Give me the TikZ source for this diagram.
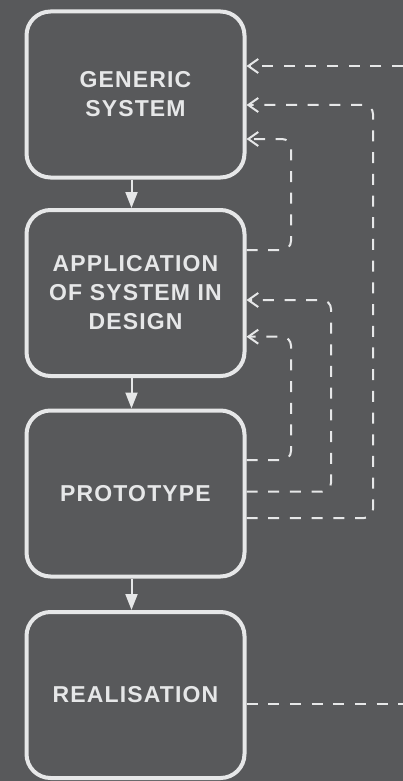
\documentclass[tikz,border=0pt]{standalone}
\usepackage{fontspec}
\setmainfont{Liberation Sans}
\newfontfamily\stagefont[LetterSpace=5]{Liberation Sans}
\usetikzlibrary{positioning, arrows.meta, calc}
\definecolor{cBg}{HTML}{58595B}
\definecolor{cW}{HTML}{E6E7E8}

\begin{document}
\begin{tikzpicture}[x=1pt, y=-1pt,
    stage/.style={draw=cW, line width=4pt, rounded corners=24pt, minimum width=218pt, minimum height=166pt,
        align=center, text=cW, font={\stagefont\bfseries\fontsize{23}{29}\selectfont}},
    flow/.style={draw=cW, line width=2pt, -{Triangle[length=16pt, width=12pt]}},
    fbline/.style={draw=cW, line width=2pt, dash pattern=on 11pt off 10.7pt, rounded corners=9pt},
    fb/.style={fbline, -{Straight Barb[length=10pt, width=14pt]}}]
    % background
    \useasboundingbox[fill=cBg] (0,0) rectangle (403,781);

    % Stages
    \node[stage] (gen) at (135.5, 94.5) {GENERIC\\SYSTEM};
    \node[stage] (app) at (135.5, 293) {APPLICATION\\OF SYSTEM IN\\DESIGN};
    \node[stage] (proto) at (135.5, 493.5) {PROTOTYPE};
    \node[stage] (real) at (135.5, 695) {REALISATION};

    % Main flow
    \draw[flow] ([xshift=-4pt]gen.south) -- ([xshift=-4pt]app.north);
    \draw[flow] ([xshift=-4pt]app.south) -- ([xshift=-4pt]proto.north);
    \draw[flow] ([xshift=-4pt]proto.south) -- ([xshift=-4pt]real.north);

    % Loose ends at the right edge
    \coordinate (rimTop) at (403, 66);
    \coordinate (rimBot) at (403, 704);

    % Feedback loops
    \draw[fb] (rimTop) -- (gen.east |- rimTop);
    \draw[fb] ([yshift=-24.5pt]proto.east) -| ([xshift=126.5pt, yshift=-10.5pt]gen.east) -- ([yshift=-10.5pt]gen.east);
    \draw[fb] ([yshift=43pt]app.east) -| ([xshift=44.5pt, yshift=-44.5pt]gen.east) -- ([yshift=-44.5pt]gen.east);
    \draw[fb] ([yshift=1.8pt]proto.east) -| ([xshift=84.5pt, yshift=-7pt]app.east) -- ([yshift=-7pt]app.east);
    \draw[fb] ([yshift=33.5pt]proto.east) -| ([xshift=44.5pt, yshift=-43.7pt]app.east) -- ([yshift=-43.7pt]app.east);
    \draw[fbline] (real.east |- rimBot) -- (rimBot);
\end{tikzpicture}
\end{document}
